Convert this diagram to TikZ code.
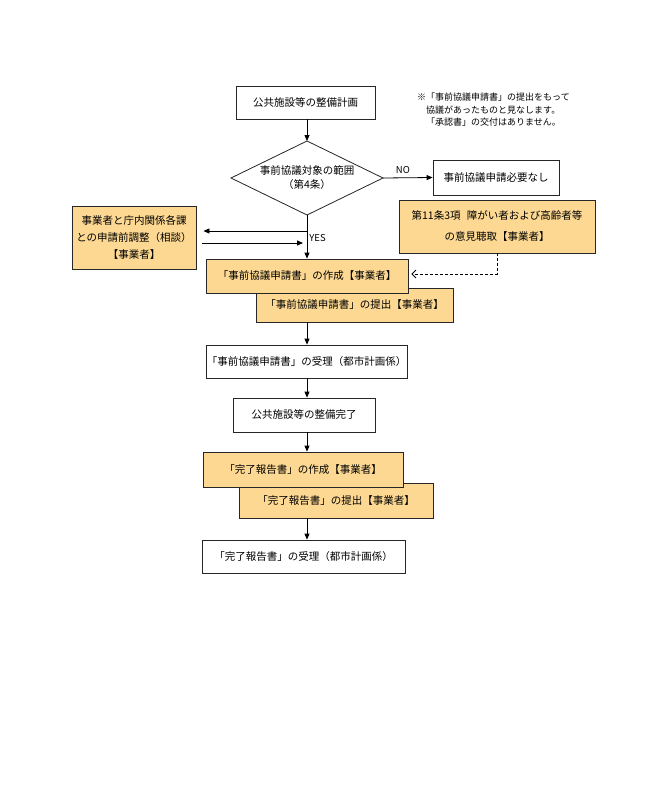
\documentclass[tikz,border=0pt]{standalone}
\usepackage{fontspec}
\setmainfont{Noto Sans CJK JP}
\usetikzlibrary{shapes.geometric,arrows.meta}
\definecolor{boxorange}{RGB}{252,216,146}
\begin{document}
\begin{tikzpicture}[x=1pt,y=1pt,
  every node/.style={font=\fontsize{10.5}{14}\selectfont, inner sep=0pt, align=center},
  wbox/.style={draw=black!85, line width=0.8pt, fill=white, rectangle},
  obox/.style={draw=black!85, line width=0.8pt, fill=boxorange, rectangle},
  conn/.style={line width=0.8pt, -{Triangle[length=6pt,width=5pt]}},
  dconn/.style={line width=0.8pt, dashed, dash pattern=on 3pt off 2pt, -{Straight Barb[length=4pt,width=8pt]}},
  lbl/.style={font=\fontsize{9.5}{12}\selectfont}
]
\useasboundingbox (0,0) rectangle (663,-800);
\fill[white] (0,0) rectangle (663,-800);
\coordinate (col) at (307,0);

\node[wbox, minimum width=139pt, minimum height=33pt] (plan) at (305.5,-102.5) {公共施設等の整備計画};

% decision diamond
\coordinate (scopeN) at (307,-141);
\coordinate (scopeS) at (307,-215);
\coordinate (scopeE) at (383,-178);
\coordinate (scopeW) at (231,-178);
\draw[line width=0.8pt, draw=black!85, fill=white] (scopeN) -- (scopeE) -- (scopeS) -- (scopeW) -- cycle;
\node (scope) at (307,-178) {事前協議対象の範囲\\（第4条）};

\node[wbox, minimum width=126pt, minimum height=35pt] (none) at (496,-177.5) {事前協議申請必要なし};

\node[obox, minimum width=196pt, minimum height=53pt, font=\fontsize{10.5}{21}\selectfont] (hear) at (497,-226.5) {第11条3項\hspace{0.6em}障がい者および高齢者等\\の意見聴取【事業者】};

\node[obox, minimum width=124pt, minimum height=63pt, font=\fontsize{10.5}{17}\selectfont] (adj) at (134,-237.5) {事業者と庁内関係各課\\との申請前調整（相談）\\【事業者】};

\node[obox, minimum width=197pt, minimum height=34pt] (sub) at (354.5,-305) {「事前協議申請書」の提出【事業者】};
\node[obox, minimum width=202pt, minimum height=34pt] (make) at (307,-276) {「事前協議申請書」の作成【事業者】};

\node[wbox, minimum width=201pt, minimum height=33pt] (rec) at (306.5,-361.5) {「事前協議申請書」の受理（都市計画係）};

\node[wbox, minimum width=142pt, minimum height=34pt] (done) at (304,-415) {公共施設等の整備完了};

\node[obox, minimum width=194pt, minimum height=35pt] (ksub) at (336,-500.5) {「完了報告書」の提出【事業者】};
\node[obox, minimum width=200pt, minimum height=35pt] (kmake) at (303,-469.5) {「完了報告書」の作成【事業者】};

\node[wbox, minimum width=203pt, minimum height=33pt] (krec) at (303.5,-556.5) {「完了報告書」の受理（都市計画係）};

\node[lbl, align=left, anchor=north west, font=\fontsize{9}{12.5}\selectfont] (note) at (417,-93)
  {※「事前協議申請書」の提出をもって\\\hspace{1em}協議があったものと見なします。\\\hspace{1em}「承認書」の交付はありません。};

% connectors
\draw[conn] (col |- plan.south) -- (scopeN);
\draw[conn] (scopeE) -- node[lbl, above, yshift=4pt, pos=0.4] (no) {NO} (none.west);
\draw[conn] (scopeS) -- node[lbl, right, pos=0.52, xshift=2pt] (yes) {YES} (col |- make.north);
\coordinate (lt) at (307,-231);
\coordinate (lb) at (303,-243);
\draw[conn] (lt) -- ([xshift=7pt]adj.east |- lt);
\draw[conn] ([xshift=6pt]adj.east |- lb) -- (lb);
\coordinate (dturn) at (hear.south |- 0,-274);
\draw[dconn] (hear.south) -- (dturn) -- ([xshift=3pt]make.east |- dturn);
\draw[conn] (col |- sub.south) -- (col |- rec.north);
\draw[conn] (col |- rec.south) -- (col |- done.north);
\draw[conn] (col |- done.south) -- (col |- kmake.north);
\draw[conn] (col |- ksub.south) -- (col |- krec.north);
\end{tikzpicture}
\end{document}
